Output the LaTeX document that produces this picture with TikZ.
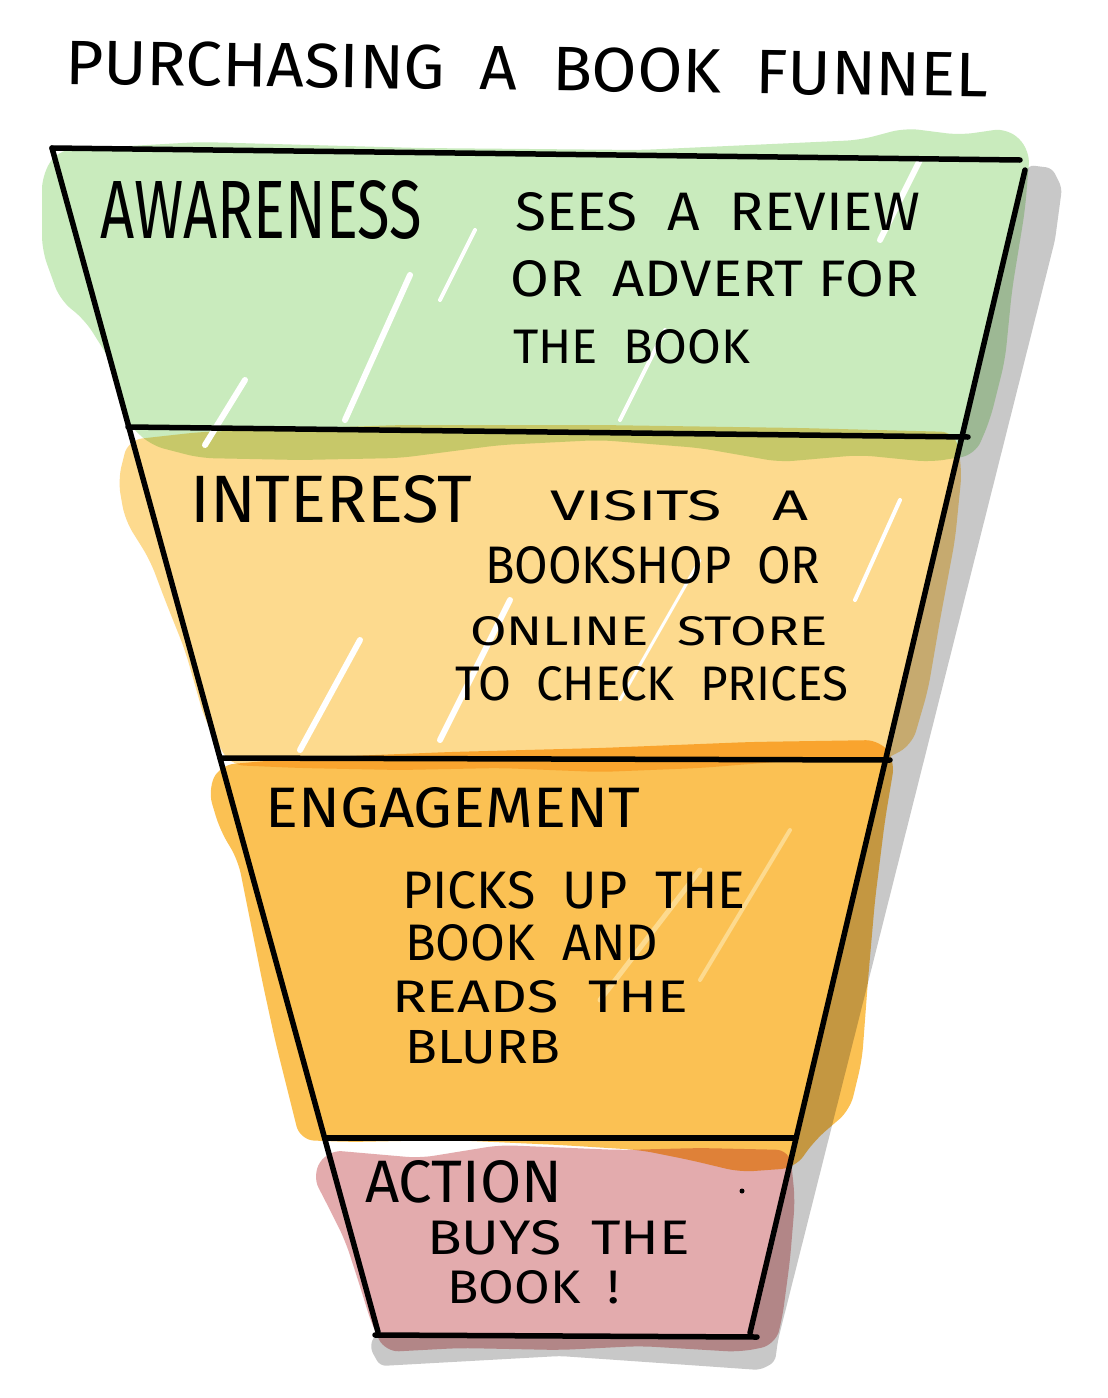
\documentclass[tikz,border=0pt]{standalone}
\usepackage{fontspec}
\setmainfont{Fira Sans}
\definecolor{cGreen}{HTML}{C9EBBD}
\definecolor{cLOrange}{HTML}{FDDA8E}
\definecolor{cDOrange}{HTML}{FBC153}
\definecolor{cPink}{HTML}{E3ABAD}
\definecolor{cShadow}{HTML}{C8C8C8}
\newcommand{\hw}[3]{\resizebox{#1pt}{#2pt}{\fontsize{\fpeval{1.45*#2}}{\fpeval{1.8*#2}}\selectfont #3}}
\tikzset{
  txt/.style={inner sep=0pt, anchor=base west},
  funnelline/.style={line width=5.5pt, line cap=round, black},
  blob/.style={rounded corners=14pt},
  streak/.style={white, line width=6pt, line cap=round},
}
\begin{document}
\begin{tikzpicture}[x=1pt,y=-1pt]
\useasboundingbox (0,0) rectangle (1108,1398);
\fill[white] (0,0) rectangle (1108,1398);

% shadow
\fill[cShadow, rounded corners=6pt] (1028,165) -- (1052,168) -- (1062,188) -- (1055,240) -- (778,1340)
  -- (775,1362) -- (760,1370) -- (560,1356) -- (380,1366) -- (370,1348) -- (374,1335)
  -- (752,1337) -- cycle;

% scribble fills
\begin{scope}[blend mode=multiply]
\fill[cGreen, blob] (42,175) -- (58,150) -- (200,142) -- (420,148) -- (640,150) -- (860,140)
  -- (905,128) -- (960,135) -- (1008,128) -- (1030,150) -- (1025,210) -- (1012,290) -- (1005,360)
  -- (990,420) -- (975,455) -- (930,462) -- (860,455) -- (780,462) -- (700,448) -- (600,440)
  -- (500,445) -- (400,458) -- (300,460) -- (200,458) -- (150,445) -- (125,420) -- (110,360)
  -- (85,320) -- (60,300) -- (42,250) -- cycle;
\fill[cLOrange, blob] (118,480) -- (128,440) -- (200,432) -- (400,425) -- (600,425) -- (800,428)
  -- (955,432) -- (962,470) -- (955,540) -- (940,620) -- (928,690) -- (912,745) -- (880,762)
  -- (800,760) -- (700,768) -- (600,772) -- (500,768) -- (400,770) -- (300,768) -- (230,765)
  -- (205,720) -- (185,650) -- (165,600) -- (150,560) -- (125,520) -- cycle;
\fill[cDOrange, blob] (208,790) -- (220,765) -- (300,758) -- (450,752) -- (600,748) -- (750,742)
  -- (880,740) -- (895,760) -- (885,820) -- (875,900) -- (868,980) -- (862,1060) -- (850,1110)
  -- (815,1140) -- (795,1168) -- (740,1172) -- (690,1160) -- (640,1150) -- (560,1145)
  -- (450,1140) -- (350,1142) -- (300,1140) -- (290,1100) -- (275,1040) -- (262,980)
  -- (250,920) -- (238,860) -- (220,830) -- cycle;
\fill[cPink, blob] (312,1175) -- (328,1150) -- (420,1158) -- (500,1145) -- (620,1150) -- (700,1148)
  -- (790,1150) -- (795,1200) -- (790,1260) -- (782,1320) -- (775,1345) -- (740,1352)
  -- (640,1346) -- (560,1350) -- (460,1348) -- (385,1352) -- (372,1325) -- (358,1280)
  -- (345,1240) -- (330,1210) -- cycle;
\end{scope}

% gaps in the scribbles
\draw[streak] (205,445) -- (245,380);
\draw[streak] (345,420) -- (410,275);
\draw[streak, line width=4pt] (440,300) -- (475,230);
\draw[streak] (880,240) -- (920,160);
\draw[streak, line width=4pt] (620,420) -- (665,330);
\draw[streak] (300,750) -- (360,640);
\draw[streak] (440,740) -- (510,600);
\draw[streak, line width=3pt] (620,700) -- (700,560);
\draw[streak, line width=4pt] (855,600) -- (900,500);
\draw[cLOrange, line width=5pt, line cap=round] (600,1000) -- (700,870);
\draw[cLOrange, line width=4pt, line cap=round] (700,980) -- (790,830);

% funnel outline
\coordinate (tl) at (52,148);
\coordinate (tr) at (1020,160);
\coordinate (rt) at (1025,170);
\coordinate (bl) at (378,1332);
\coordinate (br) at (750,1333);
\draw[funnelline] (tl) -- (tr);
\draw[funnelline] (tl) -- (bl);
\draw[funnelline] (rt) -- (br);
\draw[funnelline] (128,427) -- (968,437);
\draw[funnelline] (220,758) -- (890,760);
\draw[funnelline] (325,1138) -- (795,1138);
\draw[funnelline] (375,1335) -- (757,1337);

% title
\node[txt, rotate=-0.8] (title) at (65,84) {\hw{923}{44}{PURCHASING\ \ A\ \ BOOK\ \ FUNNEL}};

% band 1
\node[txt] (aw) at (100,238) {\hw{322}{58}{AWARENESS}};
\node[txt] (aw1) at (515,230) {\hw{405}{38}{SEES\ \ A\ \ REVIEW}};
\node[txt] (aw2) at (510,296) {\hw{408}{36}{OR\ \ ADVERT\ FOR}};
\node[txt] (aw3) at (513,363) {\hw{237}{34}{THE\ \ BOOK}};

% band 2
\node[txt] (in) at (190,522) {\hw{282}{47}{INTEREST}};
\node[txt] (in1) at (550,520) {\hw{258}{30}{VISITS\ \ \ A}};
\node[txt] (in2) at (485,583) {\hw{335}{37}{BOOKSHOP\ \ OR}};
\node[txt] (in3) at (470,645) {\hw{357}{29}{ONLINE\ \ STORE}};
\node[txt] (in4) at (455,700) {\hw{393}{34}{TO\ \ CHECK\ \ PRICES}};

% band 3
\node[txt] (en) at (265,827) {\hw{375}{40}{ENGAGEMENT}};
\node[txt] (en1) at (402,908) {\hw{343}{37}{PICKS\ \ UP\ \ THE}};
\node[txt] (en2) at (405,960) {\hw{253}{36}{BOOK\ \ AND}};
\node[txt] (en3) at (392,1012) {\hw{296}{32}{READS\ \ THE}};
\node[txt] (en4) at (405,1063) {\hw{155}{33}{BLURB}};

% band 4
\node[txt] (ac) at (365,1202) {\hw{197}{42}{ACTION}};
\node[txt] (ac1) at (427,1254) {\hw{263}{34}{BUYS\ \ THE}};
\node[txt] (ac2) at (447,1303) {\hw{173}{33}{BOOK\ \ !}};
\fill (742,1191) circle (2.5);
\end{tikzpicture}
\end{document}
